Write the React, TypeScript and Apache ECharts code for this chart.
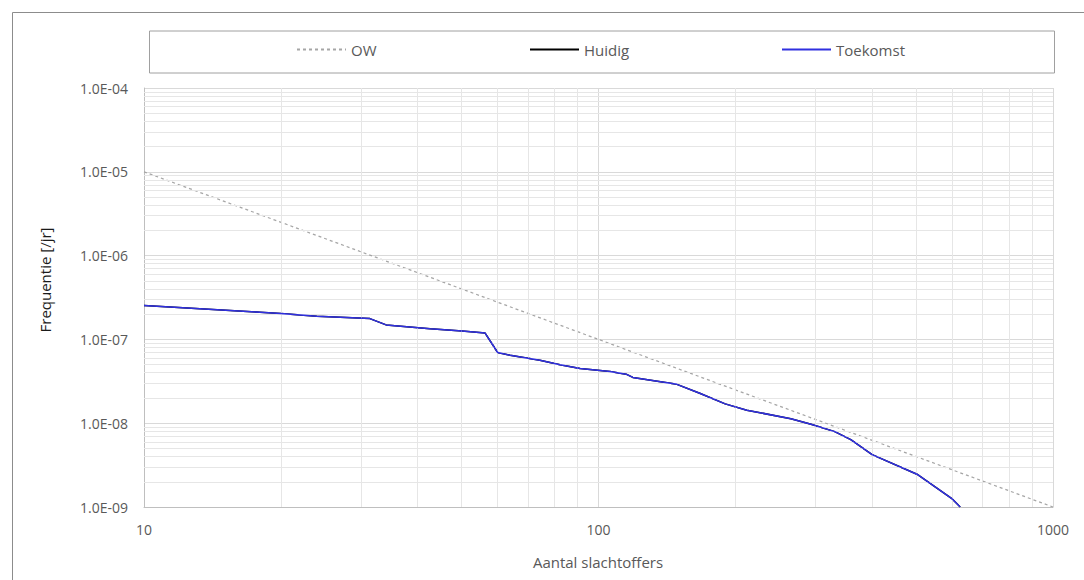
import React, { useEffect, useRef } from "react";
import * as echarts from "echarts";

const FONT = "'Open Sans', 'Noto Sans', sans-serif";

// Aantal slachtoffers (N) and frequentie (F)
const huidigN = [10, 18, 20, 24, 31.4, 34.1, 42.6, 50.1, 56.3, 60, 63.9, 74.3, 82.3, 91.1, 106, 115, 119, 148.8, 167, 190, 212, 265, 293.5, 331, 359, 400, 502, 598, 625];
const huidigF = [2.54e-7, 2.11e-7, 2.04e-7, 1.89e-7, 1.77e-7, 1.49e-7, 1.34e-7, 1.26e-7, 1.19e-7, 6.98e-8, 6.48e-8, 5.65e-8, 4.99e-8, 4.5e-8, 4.14e-8, 3.85e-8, 3.52e-8, 2.91e-8, 2.28e-8, 1.7e-8, 1.43e-8, 1.13e-8, 9.7e-9, 7.94e-9, 6.38e-9, 4.22e-9, 2.46e-9, 1.27e-9, 1.0e-9];
const toekomstN = [10, 18, 20, 24, 31.4, 34.1, 42.6, 50.1, 56.3, 60, 63.9, 74.3, 82.3, 91.1, 106, 115, 119, 148.8, 167, 190, 212, 265, 293.5, 331, 359, 400, 502, 598, 625];
const toekomstF = [2.54e-7, 2.11e-7, 2.04e-7, 1.89e-7, 1.77e-7, 1.49e-7, 1.34e-7, 1.26e-7, 1.19e-7, 6.98e-8, 6.48e-8, 5.65e-8, 4.99e-8, 4.5e-8, 4.14e-8, 3.85e-8, 3.52e-8, 2.91e-8, 2.28e-8, 1.7e-8, 1.43e-8, 1.13e-8, 9.7e-9, 7.94e-9, 6.38e-9, 4.22e-9, 2.46e-9, 1.27e-9, 1.0e-9];
const owN = [10, 1000];
const owF = [1e-5, 1e-9];

const yTickValues = [1e-9, 1e-8, 1e-7, 1e-6, 1e-5, 1e-4];
const yTickLabels = ["1.0E-09", "1.0E-08", "1.0E-07", "1.0E-06", "1.0E-05", "1.0E-04"];
const xTickValues = [10, 100, 1000];
const xTickLabels = ["10", "100", "1000"];

const xMinor = [20, 30, 40, 50, 60, 70, 80, 90, 200, 300, 400, 500, 600, 700, 800, 900];
const yMinorMant = [2, 3, 4, 5, 6, 7, 8, 9];
const yMinorExp = [-9, -8, -7, -6, -5];

function zip(a: number[], b: number[]) {
  return a.map((v, i) => [v, b[i]]);
}

function labelFor(values: number[], labels: string[], v: number) {
  let best = 0;
  let bd = Infinity;
  values.forEach((t, i) => {
    const d = Math.abs(Math.log10(t) - Math.log10(v));
    if (d < bd) {
      bd = d;
      best = i;
    }
  });
  return bd < 0.01 ? labels[best] : "";
}

export default function App() {
  const ref = useRef<HTMLDivElement>(null);
  useEffect(() => {
    if (!ref.current) return;
    const chart = echarts.init(ref.current, undefined, { renderer: "svg" });
    const yMinor: number[] = [];
    yMinorExp.forEach((e) => yMinorMant.forEach((m) => yMinor.push(Number(m + "e" + e))));
    const xMinorLines = xMinor.map((v) => [
      { coord: [v, 1e-9] },
      { coord: [v, 1e-4] },
    ]);
    const yMinorLines = yMinor.map((v) => [
      { coord: [10, v] },
      { coord: [1000, v] },
    ]);
    const legendBase = {
      top: 42,
      itemWidth: 49,
      itemHeight: 14,
      padding: 0,
      selectedMode: false,
      itemStyle: { opacity: 0 },
      textStyle: { fontSize: 15, color: "#595959", fontFamily: FONT },
    };
    chart.setOption({
      animation: false,
      textStyle: { fontFamily: FONT },
      grid: { left: 144, top: 88, right: 31, bottom: 73, containLabel: false },
      legend: [
        { ...legendBase, data: ["OW"], left: 296 },
        { ...legendBase, data: ["Huidig"], left: 529 },
        { ...legendBase, data: ["Toekomst"], left: 781 },
      ],
      graphic: [
        {
          type: "rect",
          left: 10,
          top: 10,
          shape: { width: 1200, height: 700 },
          style: { fill: "none", stroke: "#8c8c8c", lineWidth: 1 },
          silent: true,
          z: -10,
        },
        {
          type: "rect",
          left: 147,
          top: 28.5,
          shape: { width: 905, height: 42 },
          style: { fill: "none", stroke: "#a0a0a0", lineWidth: 1 },
          silent: true,
          z: -10,
        },
        {
          type: "text",
          x: 45,
          y: 280,
          rotation: Math.PI / 2,
          style: {
            text: "Frequentie [/jr]",
            fontSize: 15,
            fontFamily: FONT,
            fill: "#1a1a1a",
            align: "center",
            verticalAlign: "middle",
          },
        },
        {
          type: "text",
          x: 598,
          y: 562,
          style: {
            text: "Aantal slachtoffers",
            fontSize: 15,
            fontFamily: FONT,
            fill: "#595959",
            align: "center",
            verticalAlign: "middle",
          },
        },
      ],
      xAxis: {
        type: "log",
        logBase: 10,
        min: 10,
        max: 1000,
        axisLine: { show: true, lineStyle: { color: "#bfbfbf", width: 1 } },
        axisTick: { show: false },
        splitLine: { show: true, lineStyle: { color: "#d9d9d9", width: 1 } },
        axisLabel: {
          fontSize: 14,
          color: "#595959",
          margin: 15,
          fontFamily: FONT,
          formatter: (v: number) => labelFor(xTickValues, xTickLabels, v),
        },
      },
      yAxis: {
        type: "log",
        logBase: 10,
        min: 1e-9,
        max: 1e-4,
        axisLine: { show: true, lineStyle: { color: "#bfbfbf", width: 1 } },
        axisTick: { show: false },
        splitLine: { show: true, lineStyle: { color: "#d9d9d9", width: 1 } },
        axisLabel: {
          fontSize: 14,
          color: "#595959",
          margin: 16,
          fontFamily: FONT,
          formatter: (v: number) => labelFor(yTickValues, yTickLabels, v),
        },
      },
      series: [
        {
          name: "minor",
          type: "line",
          data: [],
          z: 1,
          silent: true,
          markLine: {
            silent: true,
            precision: 15,
            symbol: ["none", "none"],
            label: { show: false },
            lineStyle: { color: "#e6e6e6", width: 1, type: "solid" },
            emphasis: { disabled: true },
            data: [...xMinorLines, ...yMinorLines],
          },
        },
        {
          name: "OW",
          type: "line",
          data: zip(owN, owF),
          showSymbol: false,
          z: 3,
          lineStyle: { color: "#a6a6a6", width: 1.25, type: [3, 3] },
          itemStyle: { color: "#a6a6a6" },
        },
        {
          name: "Huidig",
          type: "line",
          data: zip(huidigN, huidigF),
          showSymbol: false,
          z: 4,
          lineStyle: { color: "#000000", width: 1.5 },
          itemStyle: { color: "#000000" },
        },
        {
          name: "Toekomst",
          type: "line",
          data: zip(toekomstN, toekomstF),
          showSymbol: false,
          z: 5,
          lineStyle: { color: "#3030e0", width: 1.5 },
          itemStyle: { color: "#3030e0" },
        },
      ],
    });
    return () => chart.dispose();
  }, []);
  return (
    <div
      ref={ref}
      style={{ position: "absolute", left: 0, top: 0, width: 1084, height: 580, background: "#ffffff" }}
    />
  );
}
